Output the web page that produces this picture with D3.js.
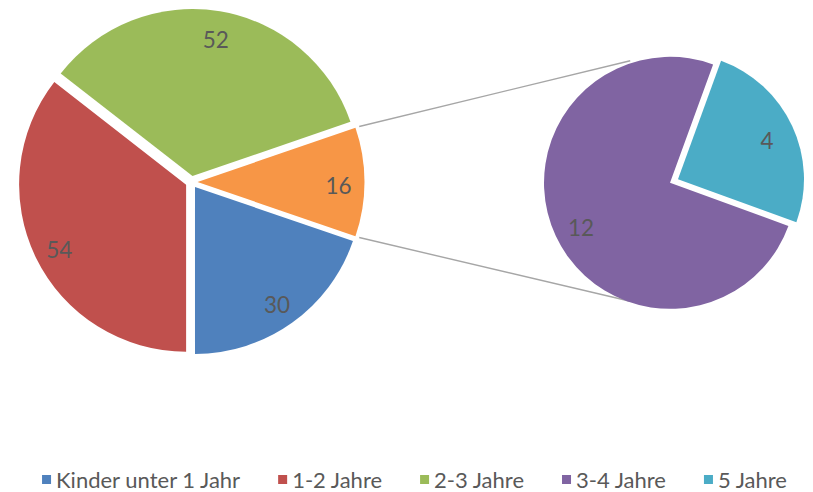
<!DOCTYPE html>
<html>
<head>
<meta charset="utf-8">
<script src="https://cdn.jsdelivr.net/npm/d3@7"></script>
<style>
  html, body { margin: 0; padding: 0; background: #fff; }
  svg { display: block; }
  text { font-family: Lato, "Open Sans", sans-serif; }
</style>
</head>
<body>
<svg id="chart" width="813" height="492"></svg>
<script>
// ---- data ----
const mainCategories = ["Kinder unter 1 Jahr", "1-2 Jahre", "2-3 Jahre"];
const mainValues = [30, 54, 52];
const secondaryCategories = ["3-4 Jahre", "5 Jahre"];
const secondaryValues = [12, 4];
const legendLabels = ["Kinder unter 1 Jahr", "1-2 Jahre", "2-3 Jahre", "3-4 Jahre", "5 Jahre"];
const colors = ["#4f81bd", "#c0504d", "#9bbb59", "#8064a2", "#4bacc6"];
const otherColor = "#f79646";

// ---- layout ----
const svg = d3.select("#chart");
const main = { cx: 191.5, cy: 182, r: 167, explode: 6 };
const sec = { cx: 674, cy: 181, r: 126, explode: 4.4, start: 110 * Math.PI / 180 };
const labelColor = "#595959";
const fontSize = 22.5;
const legendFontSize = 22;

const otherValue = d3.sum(secondaryValues);
const mainData = mainValues.map((v, i) => ({ name: mainCategories[i], value: v, color: colors[i] }))
  .concat([{ name: "Other", value: otherValue, color: otherColor }]);
const total = d3.sum(mainData, d => d.value);
const otherAngle = otherValue / total * 2 * Math.PI;
const mainStart = Math.PI / 2 + otherAngle / 2;

const pieMain = d3.pie().sort(null).value(d => d.value)
  .startAngle(mainStart).endAngle(mainStart + 2 * Math.PI);
const arcsMain = pieMain(mainData);

const secData = secondaryValues.map((v, i) => ({ name: secondaryCategories[i], value: v, color: colors[3 + i] }));
const pieSec = d3.pie().sort(null).value(d => d.value)
  .startAngle(sec.start).endAngle(sec.start + 2 * Math.PI);
const arcsSec = pieSec(secData);

function dir(a) { return [Math.sin(a), -Math.cos(a)]; }

function drawPie(g, arcs, p, labelFrac) {
  const arcGen = d3.arc().innerRadius(0).outerRadius(p.r);
  arcs.forEach(a => {
    const mid = (a.startAngle + a.endAngle) / 2;
    const [dx, dy] = dir(mid);
    const ox = p.cx + dx * p.explode, oy = p.cy + dy * p.explode;
    g.append("path")
      .attr("d", arcGen(a))
      .attr("transform", `translate(${ox},${oy})`)
      .attr("fill", a.data.color);
    g.append("text")
      .attr("x", ox + dx * p.r * labelFrac)
      .attr("y", oy + dy * p.r * labelFrac + 3)
      .attr("text-anchor", "middle")
      .attr("dominant-baseline", "central")
      .attr("fill", labelColor)
      .attr("font-size", fontSize)
      .text(a.data.value);
  });
}

// connector lines from the "other" slice to the secondary pie
const otherArc = arcsMain[arcsMain.length - 1];
const oMid = (otherArc.startAngle + otherArc.endAngle) / 2;
const [odx, ody] = dir(oMid);
const oox = main.cx + odx * main.explode, ooy = main.cy + ody * main.explode;
const lineG = svg.append("g");
[[otherArc.startAngle, -20], [otherArc.endAngle, 200]].forEach(([a, b]) => {
  const [sx, sy] = dir(a);
  const [ex, ey] = dir(b * Math.PI / 180);
  lineG.append("line")
    .attr("x1", oox + sx * (main.r + 4))
    .attr("y1", ooy + sy * (main.r + 4))
    .attr("x2", sec.cx + ex * (sec.r + 2))
    .attr("y2", sec.cy + ey * (sec.r + 2))
    .attr("stroke", "#a6a6a6")
    .attr("stroke-width", 1.4);
});

drawPie(svg.append("g"), arcsMain, main, 0.845);
drawPie(svg.append("g"), arcsSec, sec, 0.78);

// ---- legend ----
const legY = 478;
const legG = svg.append("g");
const items = legendLabels.map((l, i) => {
  const g = legG.append("g");
  g.append("rect").attr("x", 0).attr("y", legY - 3).attr("width", 9).attr("height", 9).attr("fill", colors[i]);
  const t = g.append("text").attr("x", 14).attr("y", legY + 1)
    .attr("dominant-baseline", "central")
    .attr("fill", labelColor).attr("font-size", legendFontSize).text(l);
  return { g, w: 14 + t.node().getComputedTextLength() };
});
const gap = 38;
const totalW = d3.sum(items, d => d.w) + gap * (items.length - 1);
let x = 414.5 - totalW / 2;
items.forEach(it => { it.g.attr("transform", `translate(${x},0)`); x += it.w + gap; });
</script>
</body>
</html>
